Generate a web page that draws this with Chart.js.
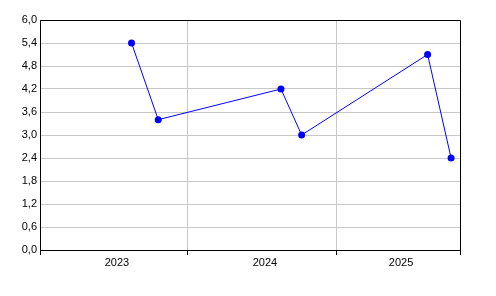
<!DOCTYPE html>
<html>
<head>
<meta charset="utf-8">
<script src="https://cdn.jsdelivr.net/npm/chart.js@4"></script>
<style>
  html, body { margin: 0; padding: 0; background: #fff; }
  canvas { display: block; }
</style>
</head>
<body>
<canvas id="chart" width="496" height="296"></canvas>
<script>
const pointDates = ['2023-08-15', '2023-10-20', '2024-08-18', '2024-10-08', '2025-08-15', '2025-10-12'];
const pointValues = [5.4, 3.4, 4.2, 3.0, 5.1, 2.4];
const yearLabels = ['2023', '2024', '2025'];
const yTicks = [0, 0.6, 1.2, 1.8, 2.4, 3.0, 3.6, 4.2, 4.8, 5.4, 6.0];
const xRange = ['2023-01-01', '2025-11-03'];

const day = s => Date.parse(s);
const xMin = day(xRange[0]);
const xMax = day(xRange[1]);

// year boundaries (grid lines + tick marks) and label ticks placed a little right of each span's middle
const bounds = [xMin, ...yearLabels.slice(1).map(y => day(y + '-01-01')), xMax];
const nudge = (xMax - xMin) * 3 / 420;
const labelAt = new Map();
yearLabels.forEach((y, i) => labelAt.set((bounds[i] + bounds[i + 1]) / 2 + nudge, y));
const isBound = v => bounds.includes(v);

const frame = {
  id: 'frame',
  afterDraw(chart) {
    const { ctx, chartArea: a } = chart;
    ctx.save();
    ctx.strokeStyle = '#000';
    ctx.lineWidth = 1;
    ctx.beginPath();
    ctx.moveTo(Math.round(a.left) + 0.5, Math.round(a.top) + 0.5);
    ctx.lineTo(Math.round(a.right) + 0.5, Math.round(a.top) + 0.5);
    ctx.lineTo(Math.round(a.right) + 0.5, Math.round(a.bottom) + 0.5);
    ctx.stroke();
    ctx.restore();
  }
};

new Chart(document.getElementById('chart'), {
  type: 'line',
  data: {
    datasets: [{
      data: pointDates.map((d, i) => ({ x: day(d), y: pointValues[i] })),
      borderColor: '#0000ff',
      backgroundColor: '#0000ff',
      borderWidth: 1,
      pointRadius: 3.5,
      pointHoverRadius: 3.5,
      pointBorderWidth: 0,
      tension: 0
    }]
  },
  options: {
    responsive: false,
    animation: false,
    events: [],
    layout: { padding: { top: 20, right: 36, left: 0, bottom: 0 } },
    plugins: { legend: { display: false }, tooltip: { enabled: false } },
    scales: {
      x: {
        type: 'linear',
        min: xMin,
        max: xMax,
        afterBuildTicks: s => {
          s.ticks = [...bounds, ...labelAt.keys()].sort((a, b) => a - b).map(v => ({ value: v }));
        },
        afterFit: s => { s.height = 46; },
        grid: {
          color: c => isBound(c.tick.value) ? '#c8c8c8' : 'rgba(0,0,0,0)',
          tickColor: c => isBound(c.tick.value) ? '#000' : 'rgba(0,0,0,0)',
          tickLength: 5,
          lineWidth: 1
        },
        border: { color: '#000', width: 1 },
        ticks: {
          autoSkip: false,
          maxRotation: 0,
          padding: 1,
          color: '#000',
          font: { family: 'Liberation Sans', size: 11 },
          callback: v => labelAt.get(v) ?? ''
        }
      },
      y: {
        min: 0,
        max: 6,
        afterBuildTicks: s => { s.ticks = yTicks.map(v => ({ value: v })); },
        afterFit: s => { s.width = 40; },
        grid: { color: '#c8c8c8', drawTicks: false, lineWidth: 1 },
        border: { color: '#000', width: 1 },
        ticks: {
          padding: 3,
          color: '#000',
          font: { family: 'Liberation Sans', size: 11 },
          callback: v => v.toFixed(1).replace('.', ',')
        }
      }
    }
  },
  plugins: [frame]
});
</script>
</body>
</html>
